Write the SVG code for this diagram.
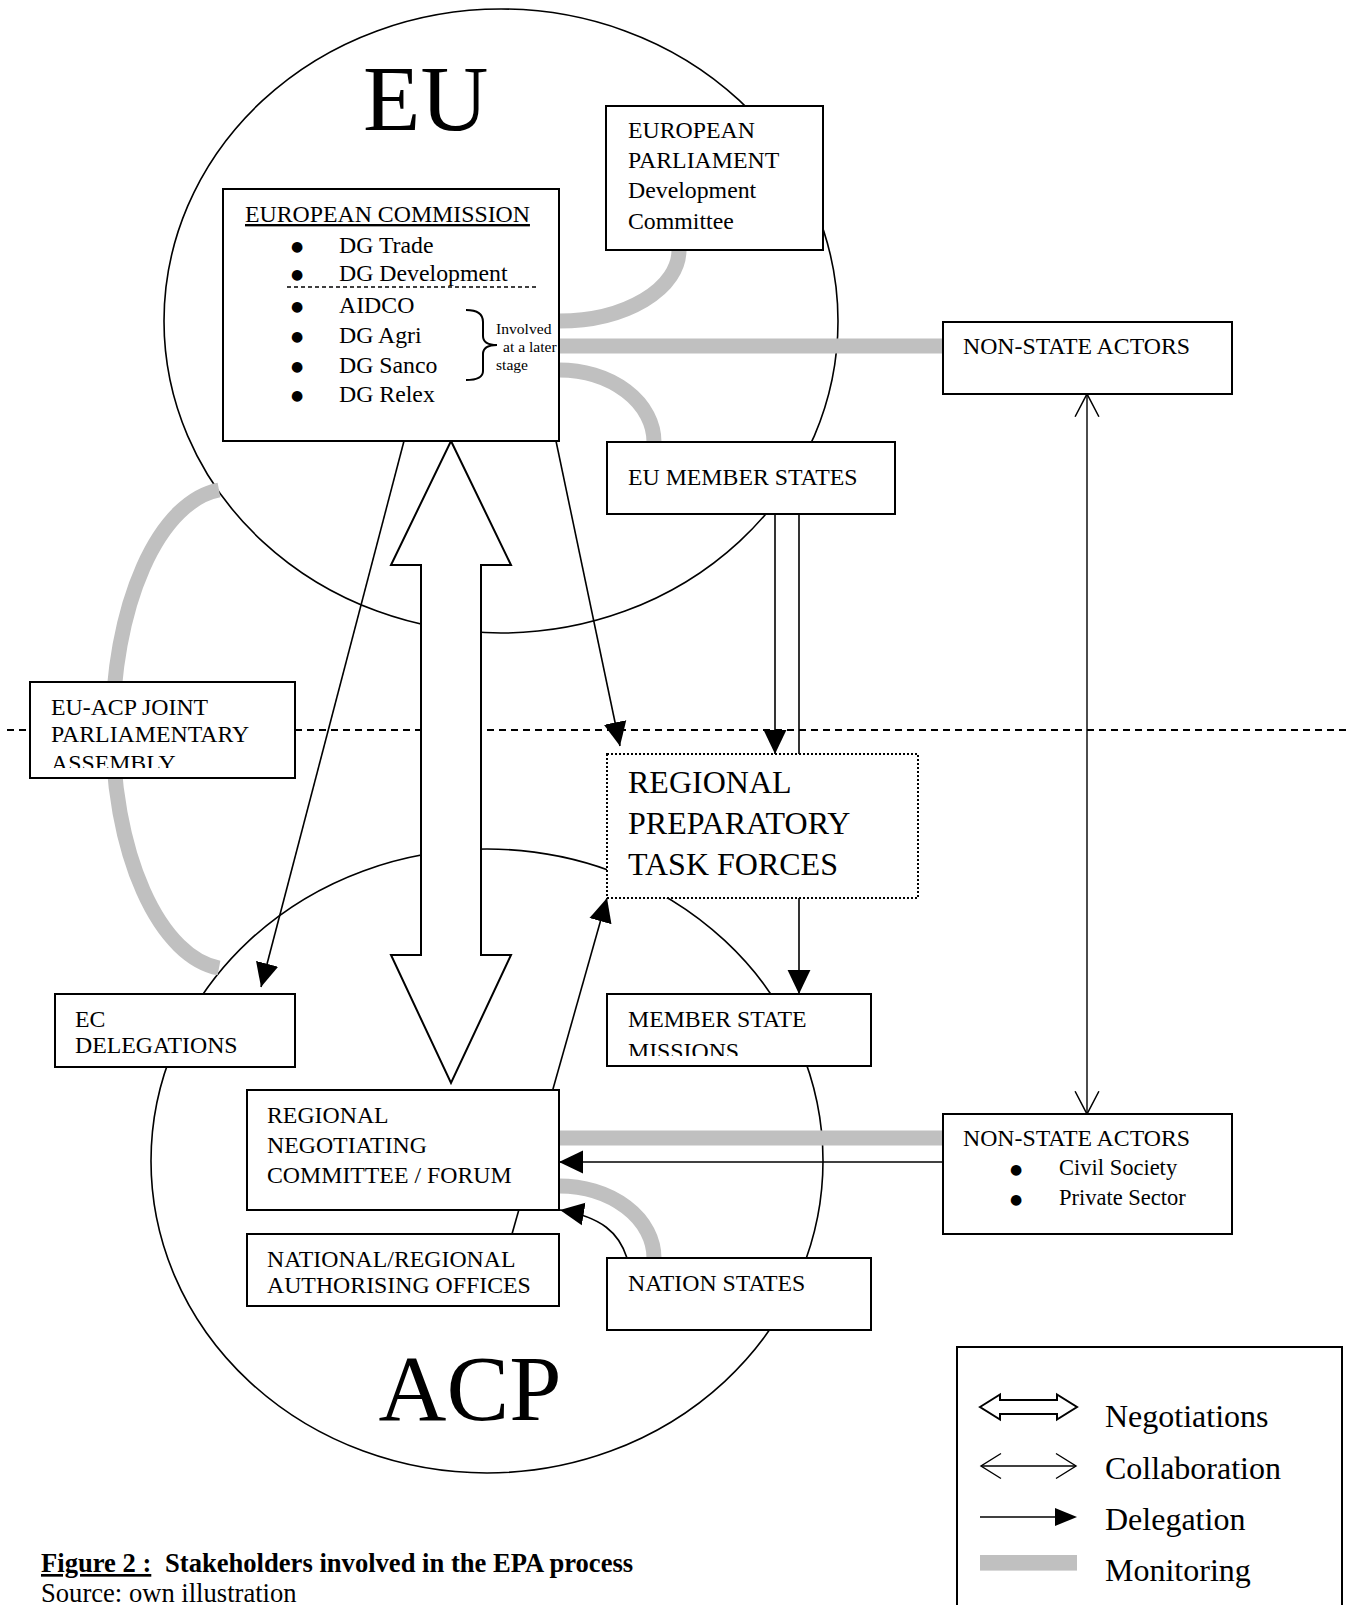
<svg xmlns="http://www.w3.org/2000/svg" width="1350" height="1605" viewBox="0 0 1350 1605">
<style>
  text { font-family: "Liberation Serif", "Times New Roman", serif; fill: #000; }
  .t { font-size: 23.8px; }
  .big { font-size: 94px; }
  .rp { font-size: 32px; }
  .sm { font-size: 15.6px; }
  .nsa { font-size: 22.5px; }
  text.bul { font-family: "DejaVu Sans", sans-serif; font-size: 14px; text-anchor: middle; }
  .leg { font-size: 32px; }
  .cap { font-size: 26.6px; }
  .box { fill: #fff; stroke: #000; stroke-width: 2; }
  .dot { fill: #fff; stroke: #000; stroke-width: 2; stroke-dasharray: 2 2; }
  .circ { fill: none; stroke: #000; stroke-width: 1.6; }
  .mon { fill: none; stroke: #c0c0c0; stroke-width: 15; }
  .del { fill: none; stroke: #000; stroke-width: 1.6; marker-end: url(#tri); }
  .ln { fill: none; stroke: #000; stroke-width: 1.6; }
  .col { fill: none; stroke: #000; stroke-width: 1.4; marker-start: url(#vee); marker-end: url(#vee); }
</style>
<defs>
  <marker id="tri" markerUnits="userSpaceOnUse" markerWidth="24" markerHeight="24" viewBox="0 0 21 20" refX="21" refY="10" orient="auto">
    <path d="M0,0 L21,10 L0,20 z" fill="#000"/>
  </marker>
  <marker id="vee" markerUnits="userSpaceOnUse" markerWidth="26" markerHeight="26" viewBox="-1 -1 24 24" refX="21" refY="11" orient="auto-start-reverse">
    <path d="M0,0 L21,11 L0,22" fill="none" stroke="#000" stroke-width="1.4"/>
  </marker>
  <clipPath id="clipJPA"><rect x="30" y="682" width="265" height="86"/></clipPath>
  <clipPath id="clipMSM"><rect x="607" y="994" width="264" height="62"/></clipPath>
  <clipPath id="clipEC"><rect x="223" y="189" width="335" height="252"/></clipPath>
</defs>
<rect x="0" y="0" width="1350" height="1605" fill="#fff"/>

<g id="eu-circle">
  <ellipse class="circ" cx="501" cy="321" rx="337" ry="312"/>
  <text class="big" x="363" y="130">EU</text>
</g>
<g id="acp-circle">
  <ellipse class="circ" cx="487" cy="1161" rx="336" ry="312"/>
  <text class="big" x="378.6" y="1420">ACP</text>
</g>

<g id="monitoring">
  <path class="mon" d="M 559 321 A 120 71 0 0 0 679 250"/>
  <path class="mon" d="M 559 346 L 943 346"/>
  <path class="mon" d="M 559 370 A 95 72 0 0 1 654 442"/>
  <path class="mon" d="M 219 490 A 117 240 0 0 0 219 968"/>
  <path class="mon" d="M 559 1138 L 943 1138"/>
  <path class="mon" d="M 559 1186 A 95 72 0 0 1 654 1258"/>
</g>

<line id="divider" x1="7" y1="730" x2="1346" y2="730" stroke="#000" stroke-width="2" stroke-dasharray="7 5"/>

<g id="connectors">
  <line class="del" x1="404" y1="441" x2="261" y2="987"/>
  <line class="del" x1="556" y1="441" x2="620" y2="746"/>
  <line class="del" x1="775" y1="514" x2="775" y2="754"/>
  <line class="ln" x1="799" y1="514" x2="799" y2="754"/>
  <line class="del" x1="799" y1="898" x2="799" y2="994"/>
  <line class="ln" x1="512" y1="1234" x2="518.8" y2="1210"/>
  <line class="del" x1="552.7" y1="1090" x2="607" y2="898"/>
  <line class="del" x1="943" y1="1162" x2="559" y2="1162"/>
  <path class="del" d="M 627 1258 C 619 1233 602 1217 560 1210"/>
  <line class="col" x1="1087" y1="394" x2="1087" y2="1114"/>
  <polygon id="negotiations" points="451,441 511,565 481,565 481,955 511,955 451,1083 391,955 421,955 421,565 391,565" fill="#fff" stroke="#000" stroke-width="2"/>
</g>

<g id="european-commission">
  <rect class="box" x="223" y="189" width="336" height="252"/>
  <text class="t" x="245" y="222" text-decoration="underline">EUROPEAN COMMISSION</text>
  <text class="bul" x="297" y="251">●</text>
  <text class="bul" x="297" y="279">●</text>
  <text class="bul" x="297" y="311">●</text>
  <text class="bul" x="297" y="341">●</text>
  <text class="bul" x="297" y="371">●</text>
  <text class="bul" x="297" y="400">●</text>
  <text class="t" x="339" y="253">DG Trade</text>
  <text class="t" x="339" y="281">DG Development</text>
  <text class="t" x="339" y="313">AIDCO</text>
  <text class="t" x="339" y="343">DG Agri</text>
  <text class="t" x="339" y="373">DG Sanco</text>
  <text class="t" x="339" y="402">DG Relex</text>
  <line x1="287" y1="287" x2="539" y2="287" stroke="#000" stroke-width="1.6" stroke-dasharray="4 3"/>
  <path d="M 466 310 C 478 310 483 314 483 322 L 483 336 C 483 342 487 345 497 345 C 487 345 483 348 483 354 L 483 371 C 483 377 478 380 466 380" fill="none" stroke="#000" stroke-width="2"/>
  <g clip-path="url(#clipEC)">
    <text class="sm" x="496" y="334">Involved</text>
    <text class="sm" x="503" y="352">at a later</text>
    <text class="sm" x="496" y="370">stage</text>
  </g>
</g>

<g id="european-parliament">
  <rect class="box" x="606" y="106" width="217" height="144"/>
  <text class="t" x="628" y="138">EUROPEAN</text>
  <text class="t" x="628" y="168">PARLIAMENT</text>
  <text class="t" x="628" y="198">Development</text>
  <text class="t" x="628" y="229">Committee</text>
</g>

<g id="non-state-actors-eu">
  <rect class="box" x="943" y="322" width="289" height="72"/>
  <text class="t" x="963" y="354">NON-STATE ACTORS</text>
</g>

<g id="eu-member-states">
  <rect class="box" x="607" y="442" width="288" height="72"/>
  <text class="t" x="628" y="485">EU MEMBER STATES</text>
</g>

<g id="joint-parliamentary-assembly">
  <rect class="box" x="30" y="682" width="265" height="96"/>
  <g clip-path="url(#clipJPA)">
    <text class="t" x="51" y="715">EU-ACP JOINT</text>
    <text class="t" x="51" y="742">PARLIAMENTARY</text>
    <text class="t" x="51" y="770.5">ASSEMBLY</text>
  </g>
</g>

<g id="regional-preparatory-task-forces">
  <rect class="dot" x="607" y="754" width="311" height="144"/>
  <text class="rp" x="628" y="793">REGIONAL</text>
  <text class="rp" x="628" y="834">PREPARATORY</text>
  <text class="rp" x="628" y="875">TASK FORCES</text>
</g>

<g id="ec-delegations">
  <rect class="box" x="55" y="994" width="240" height="73"/>
  <text class="t" x="75" y="1027">EC</text>
  <text class="t" x="75" y="1053">DELEGATIONS</text>
</g>

<g id="member-state-missions">
  <rect class="box" x="607" y="994" width="264" height="72"/>
  <g clip-path="url(#clipMSM)">
    <text class="t" x="628" y="1027">MEMBER STATE</text>
    <text class="t" x="628" y="1058.5">MISSIONS</text>
  </g>
</g>

<g id="regional-negotiating-committee">
  <rect class="box" x="247" y="1090" width="312" height="120"/>
  <text class="t" x="267" y="1123">REGIONAL</text>
  <text class="t" x="267" y="1153">NEGOTIATING</text>
  <text class="t" x="267" y="1183">COMMITTEE / FORUM</text>
</g>

<g id="authorising-offices">
  <rect class="box" x="247" y="1234" width="312" height="72"/>
  <text class="t" x="267" y="1267">NATIONAL/REGIONAL</text>
  <text class="t" x="267" y="1293">AUTHORISING OFFICES</text>
</g>

<g id="nation-states">
  <rect class="box" x="607" y="1258" width="264" height="72"/>
  <text class="t" x="628" y="1291">NATION STATES</text>
</g>

<g id="non-state-actors-acp">
  <rect class="box" x="943" y="1114" width="289" height="120"/>
  <text class="t" x="963" y="1146">NON-STATE ACTORS</text>
  <text class="bul" x="1016" y="1174">●</text>
  <text class="bul" x="1016" y="1204">●</text>
  <text class="nsa" x="1059" y="1175">Civil Society</text>
  <text class="nsa" x="1059" y="1205">Private Sector</text>
</g>

<g id="legend">
  <rect x="957" y="1347" width="385" height="280" fill="#fff" stroke="#000" stroke-width="2"/>
  <polygon points="980,1407 1000,1394.5 1000,1400 1057,1400 1057,1394.5 1077,1407 1057,1419.5 1057,1414 1000,1414 1000,1419.5" fill="#fff" stroke="#000" stroke-width="2"/>
  <line x1="981" y1="1466" x2="1076" y2="1466" stroke="#000" stroke-width="1.4"/>
  <polyline points="1001,1453.5 981,1466 1001,1478.5" fill="none" stroke="#000" stroke-width="1.4"/>
  <polyline points="1056,1453.5 1076,1466 1056,1478.5" fill="none" stroke="#000" stroke-width="1.4"/>
  <line x1="980" y1="1517" x2="1058" y2="1517" stroke="#000" stroke-width="1.6"/>
  <polygon points="1055,1508 1077,1517 1055,1526" fill="#000"/>
  <rect x="980" y="1555" width="97" height="15.6" fill="#c0c0c0"/>
  <text class="leg" x="1105" y="1427">Negotiations</text>
  <text class="leg" x="1105" y="1479">Collaboration</text>
  <text class="leg" x="1105" y="1530">Delegation</text>
  <text class="leg" x="1105" y="1581">Monitoring</text>
</g>

<g id="caption">
  <text class="cap" x="41" y="1572" font-weight="bold" text-decoration="underline">Figure 2 :</text>
  <text class="cap" x="165" y="1572" font-weight="bold">Stakeholders involved in the EPA process</text>
  <text class="cap" x="41" y="1601.5">Source: own illustration</text>
</g>
</svg>
